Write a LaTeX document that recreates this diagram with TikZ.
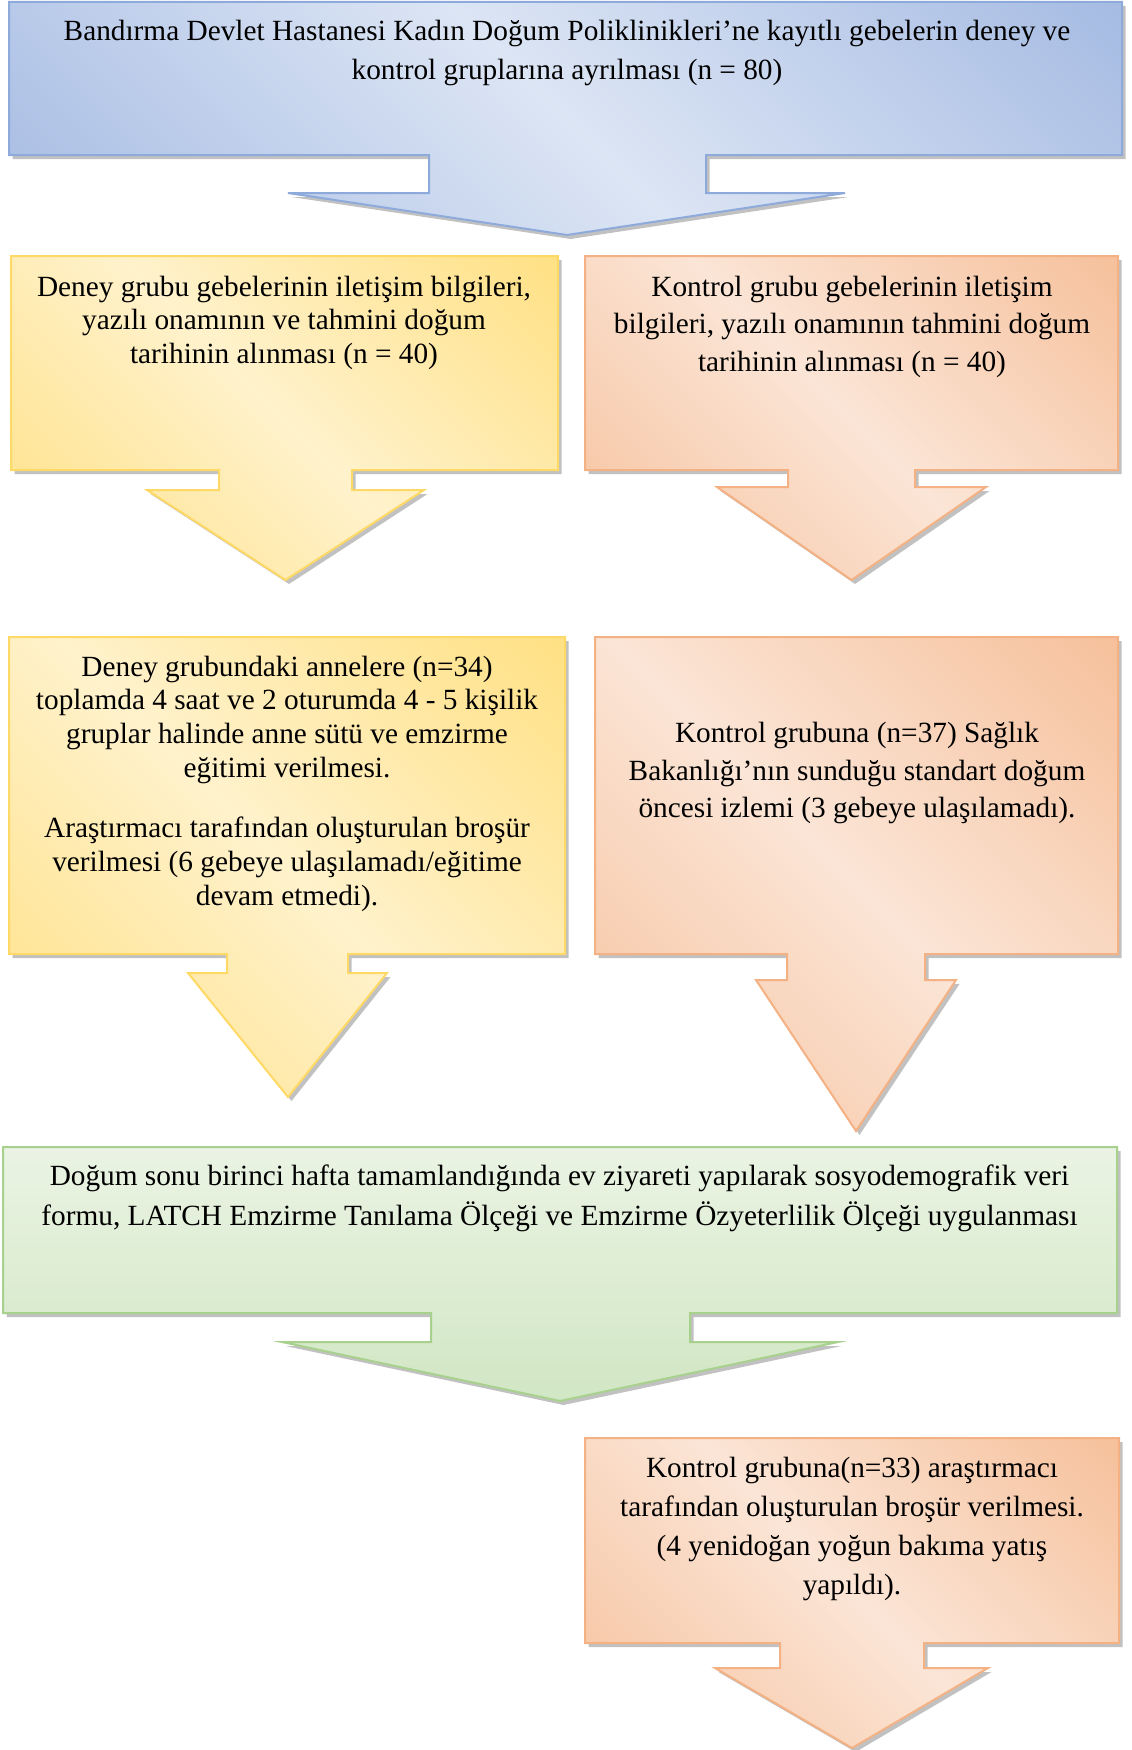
\documentclass[tikz,border=0pt]{standalone}
\usepackage{fontspec}
\setmainfont{Liberation Serif}
\usetikzlibrary{shadows}
\definecolor{bdark}{HTML}{8FAADC}
\definecolor{blight}{HTML}{DCE5F4}
\definecolor{bline}{HTML}{8EAADB}
\definecolor{ydark}{HTML}{FFD966}
\definecolor{ylight}{HTML}{FFF2CC}
\definecolor{yline}{HTML}{FFD966}
\definecolor{odark}{HTML}{F4B183}
\definecolor{olight}{HTML}{FBE5D6}
\definecolor{oline}{HTML}{F4B183}
\definecolor{gdark}{HTML}{C5E0B4}
\definecolor{gmid}{HTML}{D6E9CA}
\definecolor{glight}{HTML}{F7FAF4}
\definecolor{gline}{HTML}{A9D18E}
\pgfdeclarehorizontalshading{bshade}{100bp}{color(0bp)=(bdark); color(50bp)=(blight); color(100bp)=(bdark)}
\pgfdeclarehorizontalshading{yshade}{100bp}{color(0bp)=(ydark); color(50bp)=(ylight); color(100bp)=(ydark)}
\pgfdeclarehorizontalshading{oshade}{100bp}{color(0bp)=(odark); color(50bp)=(olight); color(100bp)=(odark)}
\pgfdeclareverticalshading{gshade}{100bp}{color(0bp)=(gdark); color(35bp)=(gmid); color(100bp)=(glight)}
\newcommand\fl{\rule{0pt}{11pt}}
\tikzset{
  callout/.style={line width=1pt, line join=miter, shade, shading angle=45,
    drop shadow={shadow xshift=1.75pt, shadow yshift=-2pt, opacity=.4, fill=black!60}},
  txt/.style={anchor=north, inner sep=0pt, align=center, text=black},
}
\begin{document}
\begin{tikzpicture}[x=0.5pt, y=-0.5pt]
\useasboundingbox (0,0) rectangle (1131,1750);
\fill[white] (0,0) rectangle (1131,1750);

% blue
\path[callout, draw=bline, shading=bshade] (9,2) -- (1122,2) -- (1122,155) -- (706,155) -- (706,193) -- (845,193) -- (567,235) -- (288,193) -- (429,193) -- (429,155) -- (9,155) -- cycle;
\node[txt, font={\fontsize{14.65}{19.5}\selectfont}] (t1) at (567,18.5) {\fl Bandırma Devlet Hastanesi Kadın Doğum Poliklinikleri’ne kayıtlı gebelerin deney ve\\kontrol gruplarına ayrılması (n = 80)};

% yellow 1
\path[callout, draw=yline, shading=yshade] (11,256) -- (558,256) -- (558,470) -- (352,470) -- (352,490) -- (424,490) -- (285.5,580) -- (147,490) -- (219,490) -- (219,470) -- (11,470) -- cycle;
\node[txt, font={\fontsize{14.65}{16.7}\selectfont}] (t2) at (284,273.8) {\fl Deney grubu gebelerinin iletişim bilgileri,\\yazılı onamının ve tahmini doğum\\tarihinin alınması (n = 40)};

% orange 1
\path[callout, draw=oline, shading=oshade] (585,256) -- (1118,256) -- (1118,470) -- (915,470) -- (915,487) -- (986,487) -- (851.5,580) -- (717,487) -- (788,487) -- (788,470) -- (585,470) -- cycle;
\node[txt, font={\fontsize{14.65}{18.75}\selectfont}] (t3) at (852,273.8) {\fl Kontrol grubu gebelerinin iletişim\\bilgileri, yazılı onamının tahmini doğum\\tarihinin alınması (n = 40)};

% yellow 2
\path[callout, draw=yline, shading=yshade] (9,637) -- (565,637) -- (565,954) -- (348,954) -- (348,973) -- (387,973) -- (288,1097) -- (188,973) -- (227,973) -- (227,954) -- (9,954) -- cycle;
\node[txt, font={\fontsize{14.65}{16.9}\selectfont}] (t4) at (287,653.7) {\fl Deney grubundaki annelere (n=34)\\toplamda 4 saat ve 2 oturumda 4 - 5 kişilik\\gruplar halinde anne sütü ve emzirme\\eğitimi verilmesi.\\[13.1pt]Araştırmacı tarafından oluşturulan broşür\\verilmesi (6 gebeye ulaşılamadı/eğitime\\devam etmedi).};

% orange 2
\path[callout, draw=oline, shading=oshade] (595,637) -- (1118,637) -- (1118,954) -- (925,954) -- (925,980) -- (956,980) -- (856,1131) -- (756,980) -- (787,980) -- (787,954) -- (595,954) -- cycle;
\node[txt, font={\fontsize{14.65}{18.75}\selectfont}] (t5) at (857,720.4) {\fl Kontrol grubuna (n=37) Sağlık\\Bakanlığı’nın sunduğu standart doğum\\öncesi izlemi (3 gebeye ulaşılamadı).};

% green
\path[callout, draw=gline, shading=gshade, shading angle=0] (3,1147) -- (1117,1147) -- (1117,1313) -- (690,1313) -- (690,1342) -- (838,1342) -- (560,1401) -- (282,1342) -- (431,1342) -- (431,1313) -- (3,1313) -- cycle;
\node[txt, font={\fontsize{14.65}{19.75}\selectfont}] (t6) at (559.5,1163.3) {\fl Doğum sonu birinci hafta tamamlandığında ev ziyareti yapılarak sosyodemografik veri\\formu, LATCH Emzirme Tanılama Ölçeği ve Emzirme Özyeterlilik Ölçeği uygulanması};

% orange 3
\path[callout, draw=oline, shading=oshade] (585,1438) -- (1119,1438) -- (1119,1643) -- (924,1643) -- (924,1668) -- (988,1668) -- (852,1748) -- (715,1668) -- (780,1668) -- (780,1643) -- (585,1643) -- cycle;
\node[txt, font={\fontsize{14.65}{19.45}\selectfont}] (t7) at (852,1455.5) {\fl Kontrol grubuna(n=33) araştırmacı\\tarafından oluşturulan broşür verilmesi.\\(4 yenidoğan yoğun bakıma yatış\\yapıldı).};
\end{tikzpicture}
\end{document}
